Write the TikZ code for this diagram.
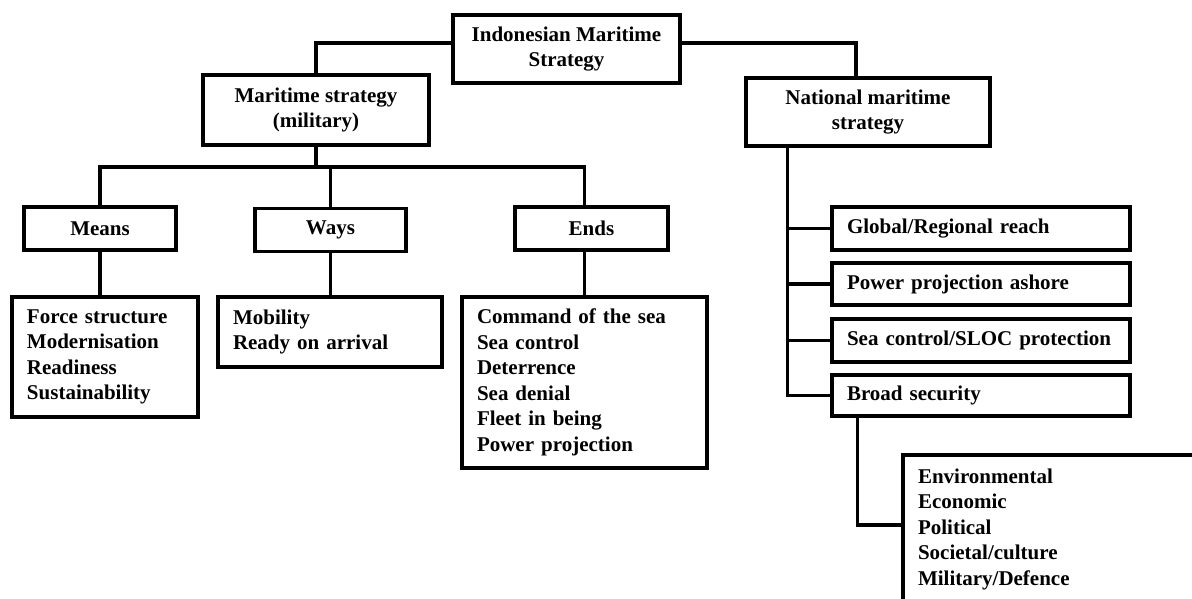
\documentclass[tikz,border=0pt]{standalone}
\usepackage{fontspec}
\setmainfont{Liberation Serif}
\begin{document}
\begin{tikzpicture}[x=1pt,y=-1pt,
  box/.style={draw, line width=3.2pt, font=\fontsize{21}{25.5}\selectfont\bfseries,
              inner sep=0pt, align=center},
  list/.style={box, align=left, inner xsep=15pt},
  link/.style={line width=3.2pt}]
\clip (0,0) rectangle (1192,598);
\fill[white] (0,0) rectangle (1192,598);

% top level
\node[box, minimum width=227, minimum height=68] (top) at (566.5,49) {Indonesian Maritime\\Strategy};
\node[box, minimum width=226, minimum height=70] (mil) at (316,110) {Maritime strategy\\(military)};
\node[box, minimum width=244, minimum height=68] (nat) at (868,112) {National maritime\\strategy};

% military branch
\node[box, minimum width=152, minimum height=43] (means) at (100,228.5) {Means};
\node[box, minimum width=151, minimum height=43] (ways) at (330.5,230) {Ways};
\node[box, minimum width=153, minimum height=43] (ends) at (591.5,228.5) {Ends};

\node[list, text width=156, minimum height=120] (meansd) at (105,357)
  {Force structure\\Modernisation\\Readiness\\Sustainability};
\node[list, text width=194, minimum height=70] (waysd) at (330,332)
  {Mobility\\Ready on arrival};
\node[list, text width=215, minimum height=171] (endsd) at (584.5,382.5)
  {Command of the sea\\Sea control\\Deterrence\\Sea denial\\Fleet in being\\Power projection};

% national branch
\node[list, text width=268, minimum height=43] (global) at (981,228.5) {Global/Regional reach};
\node[list, text width=268, minimum height=42] (power) at (981,284) {Power projection ashore};
\node[list, text width=268, minimum height=43] (sea) at (981,340.5) {Sea control/SLOC protection};
\node[list, text width=268, minimum height=41] (broad) at (981,395.5) {Broad security};
\node[list, text width=277, minimum height=148] (sec) at (1056.5,529)
  {Environmental\\Economic\\Political\\Societal/culture\\Military/Defence};

% connectors
\draw[link] ([yshift=6pt]top.west) -| (mil.north);
\draw[link] ([yshift=6pt]top.east) -| ([xshift=-12pt]nat.north);

\coordinate (bus) at (0,167);
\draw[link] (means.north) |- (bus -| endsd.north) -- (endsd.north |- ends.north);
\draw[link] (mil.south) -- (mil.south |- bus);
\draw[link] (ways.north) -- (ways.north |- bus);
\draw[link] (means.south) -- (means.south |- meansd.north);
\draw[link] (ways.south) -- (ways.south |- waysd.north);
\draw[link] (endsd.north |- ends.south) -- (endsd.north);

\coordinate (trunk) at ([xshift=43pt]nat.south west);
\draw[link] (trunk) |- (broad.west);
\foreach \n in {global,power,sea}
  \draw[link] (trunk |- \n.west) -- (\n.west);
\draw[link] ([xshift=27pt]broad.south west) |- ([yshift=4pt]sec.west);
\end{tikzpicture}
\end{document}
